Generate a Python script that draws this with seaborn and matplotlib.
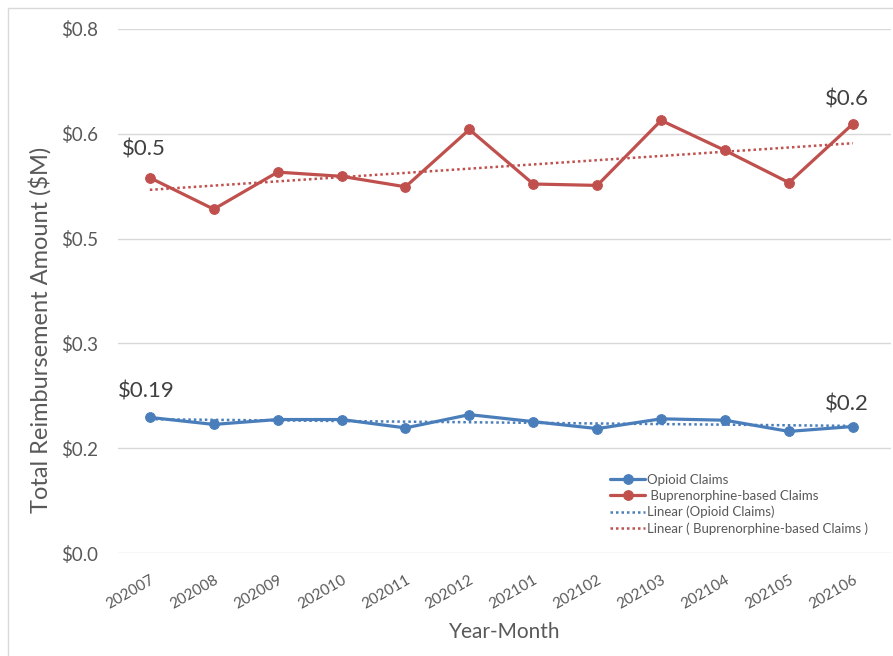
import numpy as np
import pandas as pd
import matplotlib.pyplot as plt
import seaborn as sns
from matplotlib.patches import Rectangle

# Daten ($M)
months = ["202007", "202008", "202009", "202010", "202011", "202012",
          "202101", "202102", "202103", "202104", "202105", "202106"]
opioid = [0.194, 0.184, 0.191, 0.191, 0.179, 0.198,
          0.188, 0.178, 0.192, 0.190, 0.174, 0.181]
bupe = [0.537, 0.492, 0.545, 0.539, 0.524, 0.606,
        0.528, 0.526, 0.619, 0.576, 0.530, 0.614]
y_ticks = [0.0, 0.15, 0.30, 0.45, 0.60, 0.75]
y_ticklabels = ["$0.0", "$0.2", "$0.3", "$0.5", "$0.6", "$0.8"]

blue = "#4A7EBB"
red = "#C0504D"
gray = "#595959"

sns.set_style("white")
plt.rcParams['font.family'] = ['Lato', 'DejaVu Sans']

x = np.arange(len(months))
df = pd.DataFrame({"idx": x, "opioid": opioid, "bupe": bupe})

fig = plt.figure(figsize=(8.93, 6.56), dpi=100)
ax = fig.add_axes([0.132, 0.157, 0.866, 0.799])

# Rahmen um das Diagramm
fig.patches.append(Rectangle((8 / 893, -0.05), 1.0, 1.05 - 8 / 656,
                             transform=fig.transFigure, fill=False,
                             edgecolor="#D9D9D9", linewidth=1))

sns.lineplot(data=df, x="idx", y="opioid", ax=ax, color=blue, linewidth=2.3,
             marker="o", markersize=7, markeredgecolor=blue, label="Opioid Claims")
sns.lineplot(data=df, x="idx", y="bupe", ax=ax, color=red, linewidth=2.3,
             marker="o", markersize=7, markeredgecolor=red,
             label=" Buprenorphine-based Claims")

# lineare Trendlinien
for vals, col, lab in [(opioid, blue, "Linear (Opioid Claims)"),
                       (bupe, red, "Linear ( Buprenorphine-based Claims )")]:
    m, b = np.polyfit(x, vals, 1)
    ax.plot(x, m * x + b, linestyle=(0, (1, 1.2)), color=col, linewidth=1.8, label=lab)

# Datenbeschriftungen
ax.text(x[0] - 0.1, bupe[0] + 0.026, "$0.5", fontsize=16, color="#404040", ha="center", va="bottom")
ax.text(x[-1] - 0.1, bupe[-1] + 0.021, "$0.6", fontsize=16, color="#404040", ha="center", va="bottom")
ax.text(x[0] - 0.05, opioid[0] + 0.023, "$0.19", fontsize=16, color="#404040", ha="center", va="bottom")
ax.text(x[-1] - 0.1, opioid[-1] + 0.017, "$0.2", fontsize=16, color="#404040", ha="center", va="bottom")

ax.set_xlim(-0.5, len(months) - 0.4)
ax.set_ylim(0, 0.75)
ax.set_yticks(y_ticks)
ax.set_yticklabels(y_ticklabels, fontsize=13.5, color=gray)
ax.set_xticks(x)
ax.set_xticklabels(months, rotation=30, fontsize=11, color=gray,
                   ha="right", va="top", rotation_mode="anchor")
ax.tick_params(axis="both", length=0, pad=14)
ax.tick_params(axis="x", pad=14)
ax.grid(axis="y", color="#D9D9D9", linewidth=1)
ax.set_axisbelow(True)
for s in ax.spines.values():
    s.set_visible(False)

ax.set_xlabel("Year-Month", fontsize=15, color=gray, labelpad=8)
ax.set_ylabel("Total Reimbursement Amount ($M)", fontsize=17, color=gray)
ax.yaxis.set_label_coords(-0.086, 0.426)

leg = ax.legend(loc="lower right", bbox_to_anchor=(0.985, 0.012), frameon=False,
                fontsize=9.5, handlelength=2.6, handletextpad=0.15, labelspacing=0.3)
for t in leg.get_texts():
    t.set_color(gray)

plt.savefig("out.png", dpi=100)
